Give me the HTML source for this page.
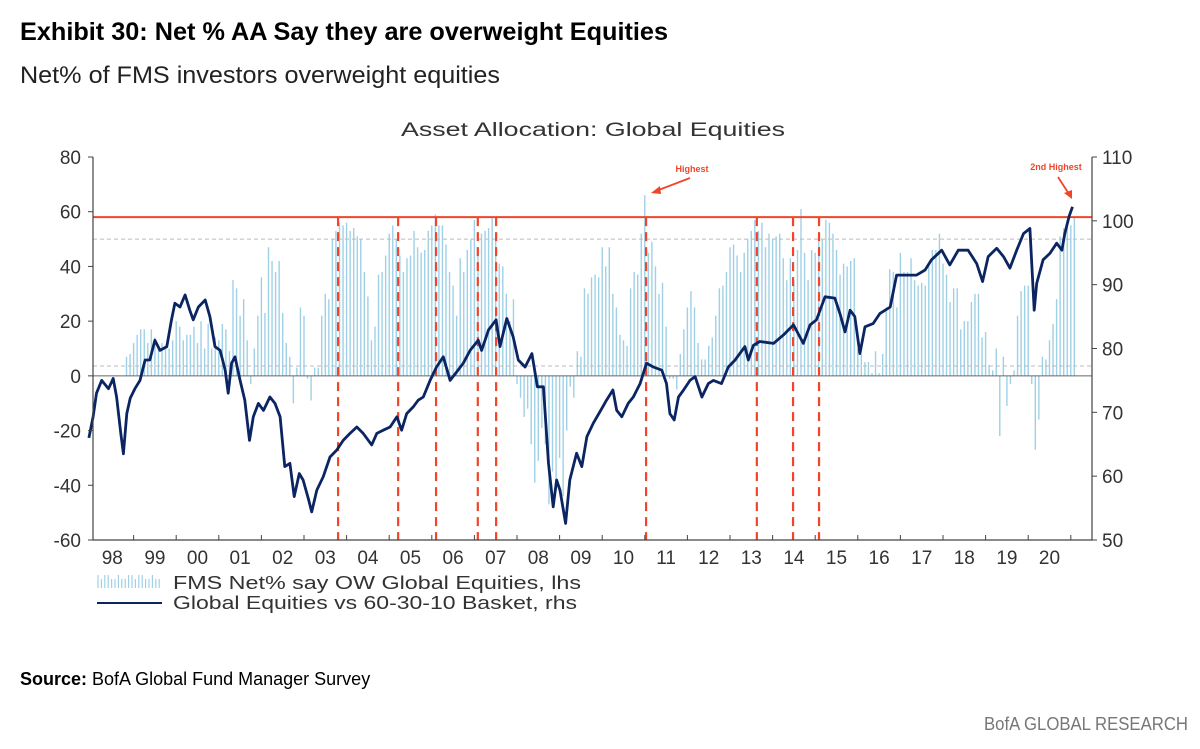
<!DOCTYPE html>
<html><head><meta charset="utf-8"><style>
body{margin:0;background:#fff;}
svg{display:block;font-family:"Liberation Sans",sans-serif;}
</style></head><body>
<svg id="chart" width="1200" height="749" viewBox="0 0 1200 749">
<text x="20" y="40" font-size="25" font-weight="bold" fill="#000" textLength="648" lengthAdjust="spacingAndGlyphs">Exhibit 30: Net % AA Say they are overweight Equities</text>
<text x="20" y="83" font-size="24" fill="#222" textLength="480" lengthAdjust="spacingAndGlyphs">Net% of FMS investors overweight equities</text>
<text x="593" y="136" font-size="19" fill="#333" text-anchor="middle" textLength="384" lengthAdjust="spacingAndGlyphs">Asset Allocation: Global Equities</text>
<g id="plot"></g>
<g>
<g id="legend-bars"></g>
<text x="173" y="589" font-size="18" fill="#333" textLength="408" lengthAdjust="spacingAndGlyphs">FMS Net% say OW Global Equities, lhs</text>
<line x1="97" y1="603" x2="162" y2="603" stroke="#0b2462" stroke-width="2"/>
<text x="173" y="609" font-size="18" fill="#333" textLength="404" lengthAdjust="spacingAndGlyphs">Global Equities vs 60-30-10 Basket, rhs</text>
</g>
<text x="20" y="685" font-size="18" fill="#000"><tspan font-weight="bold">Source:</tspan> BofA Global Fund Manager Survey</text>
<text x="1188" y="730" font-size="18" fill="#777" text-anchor="end" textLength="204" lengthAdjust="spacingAndGlyphs">BofA GLOBAL RESEARCH</text>
</svg>
<script>
const barStart = 1998 + 10/12;
const barValues = [
7,8,
12,15,17,17,12,17,14,10,12,11,10,13,
20,18,13,15,15,18,12,20,10,19,10,14,
13,19,17,9,35,32,22,28,13,-3,10,22,
36,23,47,42,38,42,23,12,7,-10,3,25,
22,-1,-9,3,3,22,30,28,50,53,56,55,
56,53,54,51,50,38,29,13,18,37,38,44,
52,55,50,44,38,43,44,53,47,45,46,53,
55,59,55,55,48,38,33,22,43,38,46,50,
57,47,52,53,54,58,52,41,40,30,20,28,
-3,-8,-15,-12,-25,-39,-31,-19,-25,-47,-35,-42,
-30,-44,-20,-4,-8,9,7,32,30,36,37,36,
47,40,47,30,25,15,13,11,32,38,37,52,
66,45,49,40,30,34,18,-1,-1,-5,8,17,
25,31,25,12,6,6,11,14,22,32,33,38,
47,48,44,38,45,50,53,57,53,56,47,52,
50,51,52,43,35,43,35,46,61,45,35,46,
45,51,50,57,56,52,46,37,41,40,42,43,
10,8,5,5,1,9,1,8,25,39,38,25,
45,38,38,43,35,33,34,33,40,46,46,52,
41,37,27,32,32,17,20,20,27,30,30,14,
16,4,2,10,-22,7,-11,-3,2,22,31,33,
33,-3,-27,-16,7,6,13,19,28,51,54,55,
55,58];
const lineDates = [1997.95,1998.05,1998.13,1998.25,1998.41,1998.52,1998.60,1998.70,1998.76,1998.84,1998.92,1999.03,1999.15,1999.27,1999.38,1999.50,1999.62,1999.78,1999.89,1999.97,2000.09,2000.21,2000.32,2000.40,2000.52,2000.68,2000.79,2000.91,2001.03,2001.15,2001.22,2001.30,2001.38,2001.50,2001.61,2001.72,2001.81,2001.93,2002.05,2002.20,2002.32,2002.44,2002.55,2002.67,2002.77,2002.89,2002.98,2003.10,2003.18,2003.30,2003.45,2003.61,2003.77,2003.92,2004.08,2004.24,2004.39,2004.59,2004.71,2004.86,2005.02,2005.18,2005.29,2005.41,2005.57,2005.68,2005.80,2005.96,2006.11,2006.27,2006.43,2006.58,2006.74,2006.90,2007.09,2007.17,2007.33,2007.51,2007.60,2007.76,2007.91,2008.03,2008.19,2008.35,2008.48,2008.62,2008.74,2008.85,2008.93,2009.01,2009.14,2009.24,2009.40,2009.52,2009.64,2009.79,2009.99,2010.10,2010.25,2010.34,2010.46,2010.61,2010.73,2010.89,2011.04,2011.20,2011.40,2011.51,2011.59,2011.69,2011.79,2011.91,2012.06,2012.18,2012.34,2012.49,2012.61,2012.80,2012.96,2013.12,2013.35,2013.43,2013.55,2013.70,2014.02,2014.25,2014.49,2014.72,2014.88,2015.03,2015.23,2015.46,2015.58,2015.70,2015.82,2015.93,2016.05,2016.17,2016.36,2016.52,2016.76,2016.91,2017.15,2017.38,2017.58,2017.73,2017.97,2018.16,2018.36,2018.59,2018.79,2018.93,2019.06,2019.26,2019.42,2019.57,2019.73,2019.89,2020.04,2020.14,2020.20,2020.35,2020.51,2020.67,2020.79,2020.86,2020.96,2021.04];
const lineValues = [66,69.3,73.0,75.0,73.7,75.3,72.4,66.7,63.5,69.8,72.2,73.7,75.0,78.2,78.2,81.3,79.7,80.3,84.5,87.1,86.5,88.4,86.0,84.5,86.5,87.6,85.0,80.3,79.7,76.6,73.0,77.7,78.7,75.0,71.9,65.6,69.3,71.4,70.3,72.4,71.4,69.3,61.5,62.0,56.8,60.4,59.4,56.5,54.4,57.8,59.9,63.0,64.1,65.6,66.7,67.7,66.7,64.9,66.7,67.2,67.7,69.3,67.2,69.8,70.9,71.9,72.4,75.0,77.1,78.7,75.0,76.3,77.7,79.7,81.3,79.7,82.9,84.5,80.3,84.7,81.8,78.2,77.1,79.2,74.0,74.0,62.0,55.2,59.4,57.8,52.6,59.4,63.6,61.5,66.2,68.3,70.6,71.9,73.5,70.3,69.3,71.4,72.4,74.5,77.7,77.1,76.6,74.5,69.8,68.8,72.4,73.5,75.0,75.6,72.4,74.5,75.0,74.5,77.1,78.2,80.3,78.2,80.5,81.1,80.8,82.1,83.7,80.8,83.7,84.5,88.1,87.9,85.5,82.6,86.0,85.0,79.2,83.4,83.9,85.5,86.5,91.5,91.5,91.5,92.3,93.9,95.4,93.1,95.4,95.4,93.3,90.5,94.4,95.7,94.4,92.6,95.4,98.0,98.8,86.0,90.2,93.9,94.9,96.5,95.4,98.0,100.7,102.2];
const leftTicks = [80,60,40,20,0,-20,-40,-60];
const rightTicks = [110,100,90,80,70,60,50];
const yearLabels = ["98","99","00","01","02","03","04","05","06","07","08","09","10","11","12","13","14","15","16","17","18","19","20"];
const eventDates = [2003.80,2005.21,2006.10,2007.08,2007.51,2011.03,2013.63,2014.48,2015.09];
const highLevel = 58;
const refLevels = [50,3.6];

const NS = "http://www.w3.org/2000/svg";
const L=93,R=1092,T=157,B=540;
const yL = v => T + (80 - v) * (B - T) / 140;
const yR = v => T + (110 - v) * (B - T) / 60;
const xT = t => 91 + (t - 1998) * 42.6;
const plot = document.getElementById('plot');
function mk(tag, attrs, parent){const e=document.createElementNS(NS,tag);for(const k in attrs)e.setAttribute(k,attrs[k]);(parent||plot).appendChild(e);return e;}

const gb = mk('g',{});


barValues.forEach((v,i)=>{
  const x = xT(barStart + i/12);
  const l = mk('line',{x1:x,x2:x,y1:yL(0),y2:yL(v),stroke:'#9fd0e6','stroke-width':1.4},gb);
  
  
});
refLevels.forEach(v=>{
  const l = mk('line',{x1:L,x2:R,y1:yL(v),y2:yL(v),stroke:'#bbb','stroke-width':1,'stroke-dasharray':'4,3'});
  
  
});
const z = mk('line',{x1:L,x2:R,y1:yL(0),y2:yL(0),stroke:'#666','stroke-width':1});


eventDates.forEach(t=>{
  const l = mk('line',{x1:xT(t),x2:xT(t),y1:yL(highLevel),y2:B,stroke:'#f0452a','stroke-width':2.2,'stroke-dasharray':'9,6'});
  
  
});
const hl = mk('line',{x1:L,x2:R,y1:yL(highLevel),y2:yL(highLevel),stroke:'#f0452a','stroke-width':2});


const pts = lineDates.map((t,i)=>xT(t).toFixed(1)+','+yR(lineValues[i]).toFixed(1)).join(' ');
const pl = mk('polyline',{points:pts,fill:'none',stroke:'#0b2462','stroke-width':2.8,'stroke-linejoin':'round'});


const ax = mk('path',{d:`M${L},${T}V${B}H${R}V${T}`,fill:'none',stroke:'#444','stroke-width':1.2});


leftTicks.forEach(v=>{
  mk('line',{x1:L-5,x2:L,y1:yL(v),y2:yL(v),stroke:'#444'});
  const t = mk('text',{x:L-12,y:yL(v)+7,'font-size':19,fill:'#333','text-anchor':'end'});
  t.textContent = v;
  
  
});
rightTicks.forEach(v=>{
  mk('line',{x1:R,x2:R+5,y1:yR(v),y2:yR(v),stroke:'#444'});
  const t = mk('text',{x:R+10,y:yR(v)+7,'font-size':19,fill:'#333'});
  t.textContent = v;
  
  
});
yearLabels.forEach((s,i)=>{
  mk('line',{x1:xT(1999+i),x2:xT(1999+i),y1:B,y2:B-5,stroke:'#444'});
  const t = mk('text',{x:xT(1998.5+i),y:B+24,'font-size':19,fill:'#333','text-anchor':'middle'});
  t.textContent = s;
  
  
});
const a1 = mk('text',{x:692,y:172,'font-size':9,'font-weight':'bold',fill:'#f0452a','text-anchor':'middle'});
a1.textContent='Highest';


mk('line',{x1:690,y1:178,x2:656,y2:191,stroke:'#f0452a','stroke-width':1.8});
mk('path',{d:'M651,193 L660,186 L661,194 Z',fill:'#f0452a'});
const a2 = mk('text',{x:1056,y:170,'font-size':9,'font-weight':'bold',fill:'#f0452a','text-anchor':'middle'});
a2.textContent='2nd Highest';


mk('line',{x1:1058,y1:177,x2:1069,y2:194,stroke:'#f0452a','stroke-width':1.8});
mk('path',{d:'M1072,199 L1064,193 L1072,190 Z',fill:'#f0452a'});
const lg = document.getElementById('legend-bars');
for(let x=98;x<162;x+=3.4){
  const h = (Math.floor(x)%2)?9:13;
  mk('line',{x1:x,x2:x,y1:588,y2:588-h,stroke:'#9fd0e6','stroke-width':1.2},lg);
}
</script>
</body></html>
